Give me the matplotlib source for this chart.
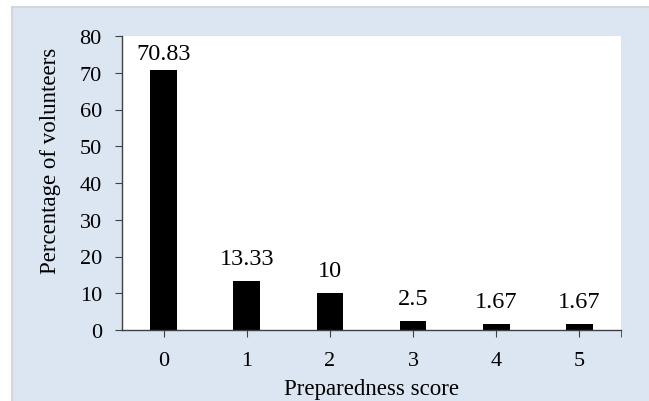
import matplotlib.pyplot as plt
from matplotlib.patches import Rectangle

scores = ['0', '1', '2', '3', '4', '5']
percent = [70.83, 13.33, 10, 2.5, 1.67, 1.67]
labels = ['70.83', '13.33', '10', '2.5', '1.67', '1.67']
yticks = [0, 10, 20, 30, 40, 50, 60, 70, 80]

plt.rcParams['font.family'] = ['Liberation Serif', 'DejaVu Serif']

fig = plt.figure(figsize=(6.49, 4.02), dpi=100)
fig.patch.set_facecolor('white')

# light blue panel behind the chart, with a grey edge on top and left
fig.patches.append(Rectangle((12 / 649, -0.05), 1.0, 1 - 8 / 402 + 0.05,
                             transform=fig.transFigure, facecolor='#DCE6F2',
                             edgecolor='#D6D6D6', linewidth=1.5, zorder=-1))

ax = fig.add_axes([122 / 649, 1 - 331 / 402, (621 - 122) / 649, (331 - 37) / 402])
ax.set_zorder(1)
ax.set_facecolor('white')

x = list(range(len(scores)))
ax.bar(x, percent, width=0.32, color='black', zorder=2)

# value labels; the tallest one is pushed down to stay inside the plot area
for xi, v, lab in zip(x, percent, labels):
    ty = min(v + 4.6, 73.7)
    ax.text(xi, ty, lab, ha='center', va='baseline', fontsize=17.5)

ax.set_xlim(-0.5, 5.5)
ax.set_ylim(0, 80)
ax.set_xticks(x)
ax.set_xticklabels(scores)
ax.set_xticks([5.5], minor=True)
ax.set_yticks(yticks)

for s in ['top', 'right']:
    ax.spines[s].set_visible(False)
for s in ['left', 'bottom']:
    ax.spines[s].set_color('#404040')
    ax.spines[s].set_linewidth(1.0)

ax.tick_params(axis='both', which='both', direction='out', length=5,
               color='#404040', labelsize=16)
ax.tick_params(axis='x', pad=10)
ax.tick_params(axis='y', pad=9.5)

ax.set_xlabel('Preparedness score', fontsize=16.5, labelpad=6)
ax.set_ylabel('Percentage of volunteers', fontsize=16.5)
ax.yaxis.set_label_coords(-0.122, 0.578)

plt.savefig('out.png', dpi=100)
